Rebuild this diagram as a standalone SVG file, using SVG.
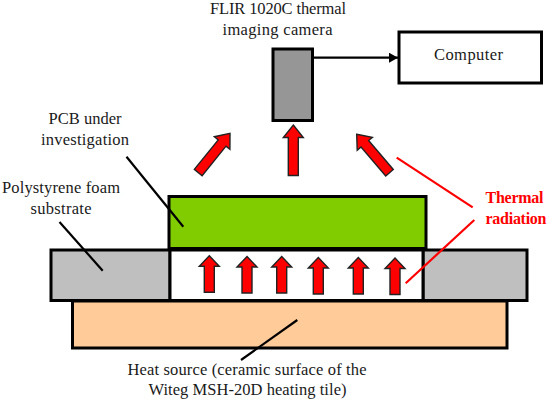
<svg xmlns="http://www.w3.org/2000/svg" width="550" height="403" viewBox="0 0 550 403">
<style>
text{font-family:"Liberation Serif","Times New Roman",serif;font-size:16.5px;fill:#1a1a1a;text-anchor:middle}
.b{stroke:#000;stroke-width:3}
.t{fill:#ff0000;font-weight:bold;font-size:16px}
.l{stroke:#000;stroke-width:2.2;fill:none}
.r{stroke:#ff0000;stroke-width:2.2;fill:none}
.a{fill:#ff0000;stroke:#222;stroke-width:1.4}
</style>
<defs>
<marker id="ah" markerUnits="userSpaceOnUse" markerWidth="10" markerHeight="10" refX="9" refY="5" orient="auto"><path d="M0 0L9 5L0 10Z" fill="#000"/></marker>
<path id="u" d="M0 0L10 10.500H5V36.500H-5V10.500H-10Z"/>
<path id="U" d="M0 0L10 12.500H5V50.500H-5V12.500H-10Z"/>
</defs>
<g id="heat-source"><rect class="b" x="72.500" y="301" width="434.500" height="47" fill="#ffcc99"/></g>
<g id="foam-left"><rect class="b" x="51" y="250" width="119" height="50.500" fill="#bfbfbf"/></g>
<g id="foam-right"><rect class="b" x="423" y="250" width="104" height="50.500" fill="#bfbfbf"/></g>
<g id="cavity"><rect class="b" x="170" y="250" width="253" height="50.500" fill="#fff"/></g>
<g id="pcb"><rect class="b" x="169" y="196.500" width="257" height="52" fill="#80cc00"/></g>
<g id="camera"><rect class="b" x="273" y="49" width="39.500" height="71.500" fill="#969696"/></g>
<g id="computer"><rect class="b" x="399" y="32" width="142.500" height="51" fill="#fff"/><text x="468.500" y="60" textLength="69">Computer</text></g>
<g id="connectors">
<path class="l" d="M313 57.700H398" marker-end="url(#ah)"/>
<path class="l" d="M126.500 156.700L183.300 226.700"/>
<path class="l" d="M59.500 222L102.700 270.700"/>
<path class="l" d="M241 360L297.300 320"/>
<path class="r" d="M396.700 157.700L472.700 207.300"/>
<path class="r" d="M474.300 220L405.700 283.300"/>
</g>
<g id="radiation-arrows">
<use href="#u" class="a" x="209.300" y="255.700"/>
<use href="#u" class="a" x="247" y="256.500"/>
<use href="#u" class="a" x="281.700" y="256.500"/>
<use href="#u" class="a" x="318.300" y="257.500"/>
<use href="#u" class="a" x="358.300" y="257.500"/>
<use href="#u" class="a" x="395" y="258"/>
<use href="#U" class="a" x="293.300" y="125"/>
<use href="#U" class="a" transform="translate(356.700 134.300) rotate(-40.500)"/>
<use href="#U" class="a" transform="translate(230 133.300) rotate(39)"/>
</g>
<g id="labels">
<text x="278" y="14" textLength="136">FLIR 1020C thermal</text>
<text x="277.500" y="35" textLength="110">imaging camera</text>
<text x="85" y="124" textLength="73">PCB under</text>
<text x="85" y="145" textLength="88">investigation</text>
<text x="61" y="193" textLength="118">Polystyrene foam</text>
<text x="61" y="214" textLength="61">substrate</text>
<text x="247" y="375" textLength="239">Heat source (ceramic surface of the</text>
<text x="247.500" y="395" textLength="198">Witeg MSH-20D heating tile)</text>
<text class="t" x="514.500" y="203" textLength="58">Thermal</text>
<text class="t" x="516" y="224" textLength="61">radiation</text>
</g>
</svg>
